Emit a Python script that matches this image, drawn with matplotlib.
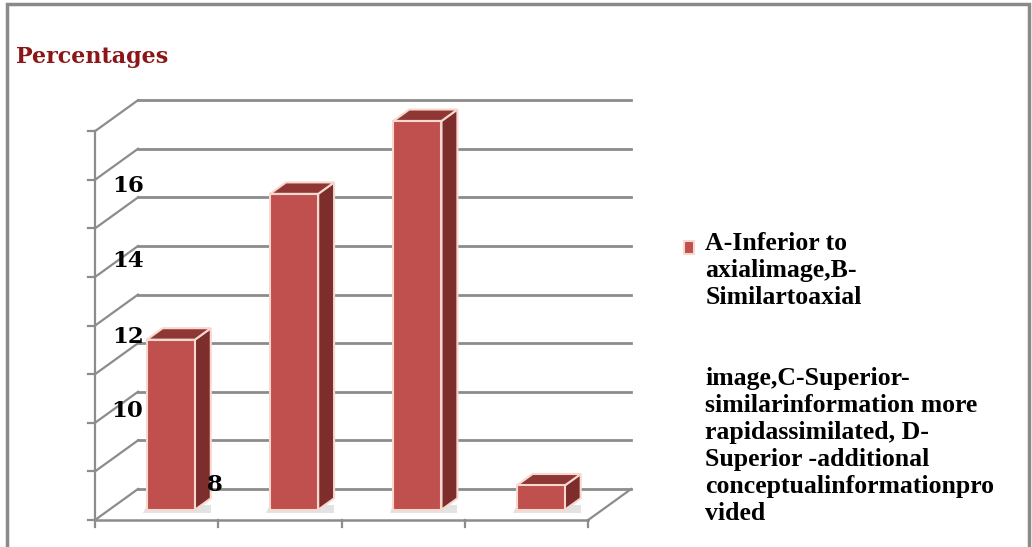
import matplotlib
matplotlib.use("Agg")
import matplotlib.pyplot as plt
from matplotlib.patches import Polygon, Rectangle

# data
categories = ["A", "B", "C", "D"]
values = [7, 13, 16, 1]
grid_levels = [0, 2, 4, 6, 8, 10, 12, 14, 16]
tick_texts = ["16", "14", "12", "10", "8"]
legend_label = ("A-Inferior to\naxialimage,B-\nSimilartoaxial\n\n\nimage,C-Superior-\n"
                "similarinformation more\nrapidassimilated, D-\nSuperior -additional\n"
                "conceptualinformationpro\nvided")

W, H = 1032, 547
fig = plt.figure(figsize=(W / 100, H / 100), dpi=100)
ax = fig.add_axes([0, 0, 1, 1])

# data units: 1 category = 123.3 px, 1 value unit = 24.3 px, origin at (95, 520) px
cat_px, val_px, ox, oy = 123.3, 24.3, 95, 520
ax.set_xlim(-ox / cat_px, (W - ox) / cat_px)
ax.set_ylim(-(H - oy) / val_px, oy / val_px)
ax.axis("off")

grid_c = "#8c8c8c"
DX, DY = 43 / cat_px, 31 / val_px          # wall depth
n = len(categories)
top = grid_levels[-1]

# back wall gridlines + side wall slants + ticks
for v in grid_levels:
    ax.plot([DX, n + DX], [v + DY, v + DY], color=grid_c, lw=2, zorder=1)
    ax.plot([0, DX], [v, v + DY], color=grid_c, lw=1.6, zorder=1)
    ax.plot([-0.06, 0], [v, v], color=grid_c, lw=1.6, zorder=1)
ax.plot([0, 0], [-0.3, top], color=grid_c, lw=1.6, zorder=1)
# floor
ax.plot([0, n], [0, 0], color=grid_c, lw=1.8, zorder=1)
ax.plot([n, n + DX], [0, DY], color=grid_c, lw=1.6, zorder=1)
for i in range(1, n + 1):
    ax.plot([i, i], [0, -0.3], color=grid_c, lw=1.6, zorder=1)

# bars: front face via ax.bar, side and top as polygons
f0, fd = 0.33, 0.37
offx, offy = f0 * DX, f0 * DY
ddx, ddy = fd * DX, fd * DY
bw = 0.39
xs = [i + 0.5 + offx for i in range(n)]
edge = "#f6d8cf"
ax.bar(xs, values, width=bw, bottom=offy, color="#c0504d", edgecolor=edge,
       linewidth=1.5, zorder=3, label=legend_label)
for x, v in zip(xs, values):
    xl, xr = x - bw / 2, x + bw / 2
    b, t = offy, offy + v
    # soft floor shadow
    ax.add_patch(Polygon([(xl - 0.03, b - 0.15), (xr + ddx, b - 0.15), (xr + ddx, b + 0.2),
                          (xl, b + 0.2)], closed=True, facecolor="#e3e3e3", edgecolor="none",
                         zorder=1.5))
    ax.add_patch(Polygon([(xr, b), (xr + ddx, b + ddy), (xr + ddx, t + ddy), (xr, t)],
                         closed=True, facecolor="#7d2e2c", edgecolor=edge, lw=1.5, zorder=2))
    ax.add_patch(Polygon([(xl, t), (xl + ddx, t + ddy), (xr + ddx, t + ddy), (xr, t)],
                         closed=True, facecolor="#8e3735", edgecolor=edge, lw=1.5, zorder=2))

# odd tick labels as they appear in the picture
tick_pos = [(128, 186), (128, 261), (128, 337), (127, 411), (215, 485)]
for s, (px, py) in zip(tick_texts, tick_pos):
    ax.text((px - ox) / cat_px, (oy - py) / val_px, s, ha="center", va="center",
            fontsize=16.5, fontweight="bold", family="DejaVu Serif", color="black", zorder=5)

fig.text(16 / W, 1 - 57 / H, "Percentages", ha="left", va="center", fontsize=16,
         fontweight="bold", family="DejaVu Serif", color="#8c1616")

leg = ax.legend(loc="upper left", bbox_to_anchor=(684 / W, 1 - 232 / H),
                bbox_transform=fig.transFigure, frameon=False,
                prop={"family": "Liberation Serif", "weight": "bold", "size": 18.5},
                handlelength=0.38, handleheight=0.38, handletextpad=0.45,
                borderpad=0, borderaxespad=0, labelspacing=0)
for t in leg.get_texts():
    t.set_linespacing(1.22)
# put the marker next to the first line, not the middle of the block
for col in leg._legend_handle_box.get_children():
    for item in col.get_children():
        item.align = "top"
for h in leg.legend_handles:
    h.set_y(h.get_y() - 6.5)

# outer frame
fig.patches.append(Rectangle((7 / W, -0.05), 1022 / W, 1.05 - 4 / H, transform=fig.transFigure,
                             fill=False, edgecolor="#8a8a8a", lw=2.5))

fig.savefig("out.png", dpi=100)
